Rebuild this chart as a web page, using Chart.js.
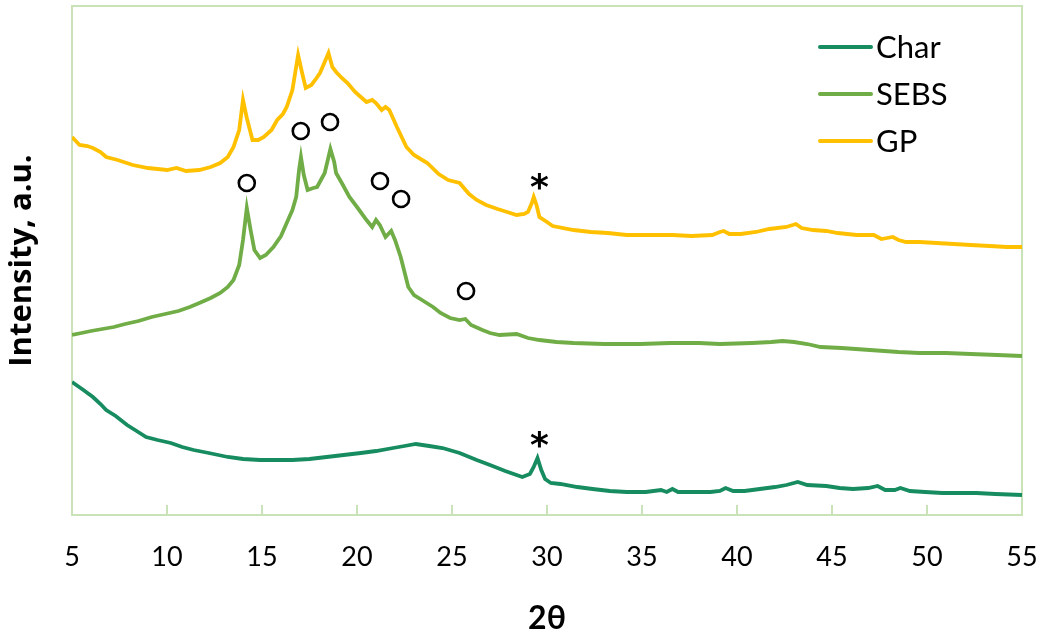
<!DOCTYPE html>
<html>
<head>
<meta charset="utf-8">
<title>XRD patterns</title>
<script src="https://cdn.jsdelivr.net/npm/chart.js@4.4.0/dist/chart.umd.min.js"></script>
<style>
  html, body { margin: 0; padding: 0; background: #fff; }
</style>
</head>
<body>
<canvas id="xrdChart" width="1043" height="636"></canvas>
<script>
// 2-theta positions and intensities (a.u.)
const charX = [5.0, 5.3, 5.6, 6.1, 6.5, 6.8, 7.3, 7.9, 8.4, 8.9,
  9.5, 10.2, 10.8, 11.4, 12.2, 13.2, 14.0, 14.9, 15.8, 16.6,
  17.5, 18.4, 19.3, 20.2, 21.0, 21.9, 22.5, 23.1, 23.8, 24.5,
  25.4, 26.3, 27.0, 27.8, 28.7, 29.1, 29.3, 29.5, 29.7, 29.9,
  30.2, 30.7, 31.6, 32.4, 33.3, 34.2, 35.2, 36.0, 36.3, 36.6,
  36.9, 37.7, 38.6, 39.1, 39.4, 39.8, 40.4, 41.2, 42.0, 42.6,
  43.2, 43.7, 44.7, 45.4, 46.1, 46.9, 47.4, 47.8, 48.3, 48.6,
  49.1, 49.9, 50.8, 51.7, 52.6, 53.6, 55.0];
const charY = [133, 129, 125, 118, 111, 105, 99, 90, 84, 78,
  75, 72, 68, 65, 62, 58, 56, 55, 55, 55,
  56, 58, 60, 62, 64, 67, 69, 71, 69, 67,
  62, 55, 50, 44, 38, 41, 48, 57, 45, 36,
  32, 31, 28, 26, 24, 23, 23, 25, 23, 26,
  23, 23, 23, 24, 27, 24, 24, 26, 28, 30,
  33, 30, 29, 27, 26, 27, 29, 25, 25, 27,
  24, 23, 22, 22, 22, 21, 20];

const sebsX = [5.0, 5.5, 6.0, 6.6, 7.2, 7.8, 8.5, 9.2, 9.9, 10.6,
  11.2, 11.7, 12.3, 12.8, 13.2, 13.5, 13.8, 14.0, 14.2, 14.4,
  14.6, 14.9, 15.2, 15.6, 16.0, 16.3, 16.6, 16.8, 16.95, 17.05,
  17.2, 17.4, 17.7, 17.9, 18.3, 18.6, 18.8, 18.9, 19.2, 19.6,
  20.0, 20.5, 20.8, 21.0, 21.2, 21.5, 21.8, 22.0, 22.3, 22.5,
  22.7, 23.0, 23.5, 24.0, 24.4, 24.9, 25.4, 25.7, 26.0, 26.6,
  27.0, 27.5, 28.4, 29.0, 29.6, 30.5, 31.4, 33.0, 34.9, 36.5,
  38.0, 39.1, 40.8, 41.8, 42.4, 43.0, 43.7, 44.4, 45.5, 47.0,
  48.5, 49.6, 51.0, 52.3, 53.7, 55.0];
const sebsY = [180, 182, 184, 186, 188, 191, 194, 198, 201, 204,
  208, 212, 217, 222, 228, 235, 250, 275, 307, 285,
  265, 257, 260, 268, 279, 292, 305, 318, 345, 358,
  340, 325, 327, 328, 342, 366, 353, 342, 332, 318,
  308, 295, 288, 295, 290, 278, 284, 275, 258, 243,
  228, 220, 214, 208, 202, 197, 195, 196, 190, 185,
  182, 180, 181, 177, 175, 173, 172, 171, 171, 172,
  172, 171, 172, 173, 174, 173, 171, 168, 167, 165,
  163, 162, 162, 161, 160, 159];

const gpX = [5.0, 5.4, 5.8, 6.1, 6.5, 6.8, 7.4, 8.2, 9.0, 10.0,
  10.5, 11.0, 11.7, 12.3, 12.8, 13.2, 13.5, 13.8, 14.0, 14.2,
  14.5, 14.8, 15.1, 15.5, 15.8, 16.1, 16.3, 16.6, 16.9, 17.1,
  17.3, 17.6, 17.8, 18.05, 18.3, 18.5, 18.7, 18.9, 19.2, 19.5,
  19.9, 20.2, 20.5, 20.8, 21.0, 21.3, 21.5, 21.7, 22.1, 22.6,
  23.0, 23.7, 24.3, 24.8, 25.4, 25.9, 26.3, 26.8, 27.4, 27.9,
  28.4, 28.8, 29.0, 29.2, 29.3, 29.45, 29.6, 30.0, 30.3, 31.4,
  32.3, 33.2, 34.2, 35.3, 36.6, 37.6, 38.7, 39.1, 39.3, 39.6,
  40.2, 41.0, 41.7, 42.6, 43.1, 43.4, 44.0, 44.7, 45.3, 46.3,
  47.2, 47.6, 47.9, 48.2, 48.5, 48.9, 49.6, 50.5, 51.4, 52.3,
  53.3, 54.2, 55.0];
const gpY = [378, 370, 369, 367, 363, 358, 355, 350, 347, 345,
  347, 344, 345, 348, 352, 358, 368, 385, 415, 397,
  375, 375, 378, 385, 395, 401, 408, 425, 460, 443,
  427, 430, 435, 442, 453, 462, 448, 443, 437, 432,
  423, 418, 413, 415, 412, 405, 408, 405, 388, 368,
  360, 352, 341, 335, 332, 321, 315, 310, 306, 303,
  300, 301, 303, 312, 318, 310, 298, 293, 289, 285,
  283, 282, 280, 280, 280, 279, 280, 283, 284, 281,
  281, 283, 286, 288, 291, 287, 285, 284, 282, 280,
  280, 276, 277, 278, 275, 273, 273, 272, 271, 270,
  269, 268, 268];

// peak markers: open circles (SEBS) and asterisks (char phase)
const circleX = [14.2, 17.04, 18.58, 21.21, 22.32, 25.74];
const circleY = [332, 384, 393, 334, 316, 224];
const starX = [29.6, 29.6];
const starY = [336, 78];

const seriesNames = ['Char', 'SEBS', 'GP'];
const seriesColors = ['#178c60', '#70ad47', '#ffc000'];

const FONT = 'Lato, "Open Sans", "DejaVu Sans", sans-serif';

function toPoints (xs, ys) {
  return xs.map((x, i) => ({ x: x, y: ys[i] }));
}

/**
 * light green frame round the plot area with small inward ticks on the x axis
 */
const framePlugin = {
  id: 'frame',
  beforeDatasetsDraw (chart) {
    const ctx = chart.ctx;
    const a = chart.chartArea;
    const xs = chart.scales.x;
    ctx.save();
    ctx.strokeStyle = '#c9e2b8';
    ctx.lineWidth = 2;
    ctx.strokeRect(a.left, a.top, a.right - a.left, a.bottom - a.top);
    xs.ticks.forEach(t => {
      const px = Math.round(xs.getPixelForValue(t.value));
      ctx.beginPath();
      ctx.moveTo(px, a.bottom);
      ctx.lineTo(px, a.bottom - 10);
      ctx.stroke();
    });
    ctx.restore();
  }
};

/**
 * peak markers and the legend box inside the plot area
 */
const markerPlugin = {
  id: 'markers',
  afterDatasetsDraw (chart) {
    const ctx = chart.ctx;
    const xs = chart.scales.x;
    const ys = chart.scales.y;
    const a = chart.chartArea;
    ctx.save();
    ctx.strokeStyle = '#000';
    ctx.lineWidth = 2.6;
    for (let i = 0; i < circleX.length; i++) {
      ctx.beginPath();
      ctx.arc(xs.getPixelForValue(circleX[i]), ys.getPixelForValue(circleY[i]), 8, 0, Math.PI * 2);
      ctx.stroke();
    }
    ctx.fillStyle = '#000';
    ctx.font = 'bold 36px "DejaVu Sans", sans-serif';
    ctx.textAlign = 'center';
    ctx.textBaseline = 'alphabetic';
    for (let i = 0; i < starX.length; i++) {
      ctx.fillText('*', xs.getPixelForValue(starX[i]), ys.getPixelForValue(starY[i]) + 20);
    }

    // legend
    ctx.font = '31px ' + FONT;
    ctx.textAlign = 'left';
    ctx.textBaseline = 'middle';
    chart.data.datasets.forEach((ds, i) => {
      const ly = a.top + 41 + i * 47;
      ctx.strokeStyle = ds.borderColor;
      ctx.lineWidth = 4;
      ctx.lineCap = 'round';
      ctx.beginPath();
      ctx.moveTo(a.right - 202, ly);
      ctx.lineTo(a.right - 151, ly);
      ctx.stroke();
      ctx.fillStyle = '#000';
      ctx.fillText(ds.label, a.right - 146, ly + 1);
    });
    ctx.restore();
  }
};

const datasets = [
  { label: seriesNames[0], data: toPoints(charX, charY), borderColor: seriesColors[0] },
  { label: seriesNames[1], data: toPoints(sebsX, sebsY), borderColor: seriesColors[1] },
  { label: seriesNames[2], data: toPoints(gpX, gpY), borderColor: seriesColors[2] }
].map(d => Object.assign(d, { borderWidth: 3.8, pointRadius: 0, tension: 0, fill: false }));

const myChart = new Chart(document.getElementById('xrdChart'), {
  type: 'line',
  data: { datasets: datasets },
  options: {
    responsive: false,
    animation: false,
    layout: { padding: { top: 6, right: 21, left: 0, bottom: 0 } },
    plugins: {
      legend: { display: false },
      tooltip: { enabled: false }
    },
    scales: {
      x: {
        type: 'linear',
        min: 5,
        max: 55,
        ticks: { stepSize: 5, color: '#000', font: { family: FONT, size: 27 }, padding: 26, maxRotation: 0, autoSkip: false },
        grid: { display: false, drawTicks: false },
        border: { display: false },
        title: { display: true, text: '2θ', color: '#000', font: { family: FONT, size: 32, weight: 'bold', lineHeight: 1.1 }, padding: { top: 0, bottom: 0 } },
        afterFit: (s) => {
          s.height = 121;
          s.paddingLeft = 0;
          s.paddingRight = 0;
        }
      },
      y: {
        min: 0,
        max: 509,
        ticks: { display: false },
        grid: { display: false, drawTicks: false },
        border: { display: false },
        title: { display: true, text: 'Intensity, a.u.', color: '#000', font: { family: '"Open Sans", ' + FONT, size: 31, weight: 'bold' }, padding: { top: 4, bottom: 0 } },
        afterFit: (s) => {
          s.width = 72;
          s.paddingTop = 0;
          s.paddingBottom = 0;
        }
      }
    }
  },
  plugins: [framePlugin, markerPlugin]
});
</script>
</body>
</html>
